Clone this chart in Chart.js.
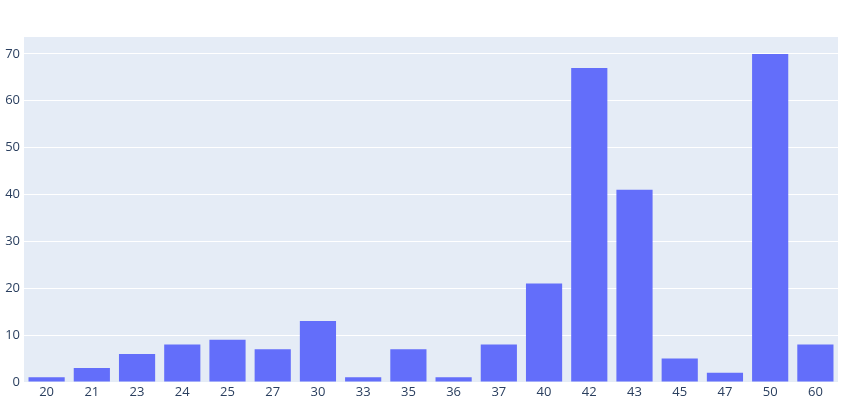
<!DOCTYPE html>
<html>
<head>
<meta charset="utf-8">
<script src="https://cdn.jsdelivr.net/npm/chart.js@4"></script>
<style>
  html, body { margin: 0; padding: 0; background: #fff; }
  #wrap { width: 863px; height: 401px; position: relative; }
</style>
</head>
<body>
<div id="wrap"><canvas id="barChart"></canvas></div>
<script>
// Data
const categories = ['20', '21', '23', '24', '25', '27', '30', '33', '35', '36', '37', '40', '42', '43', '45', '47', '50', '60'];
const counts = [1, 3, 6, 8, 9, 7, 13, 1, 7, 1, 8, 21, 67, 41, 5, 2, 70, 8];
const yTicks = [0, 10, 20, 30, 40, 50, 60, 70];

// plot background like plotly
const plotBg = {
    id: 'plotBg',
    beforeDraw(chart) {
        const { ctx, chartArea: a } = chart;
        ctx.save();
        ctx.fillStyle = '#e5ecf6';
        ctx.fillRect(a.left, a.top, a.right - a.left, a.bottom - a.top);
        ctx.restore();
    }
};

Chart.defaults.font.family = "'Open Sans', 'Noto Sans', sans-serif";
Chart.defaults.font.size = 13;
Chart.defaults.color = '#2a3f5f';

new Chart(document.getElementById('barChart'), {
    type: 'bar',
    data: {
        labels: categories,
        datasets: [{
            data: counts,
            backgroundColor: '#636efa',
            borderWidth: 0,
            barPercentage: 0.8,
            categoryPercentage: 1
        }]
    },
    options: {
        responsive: true,
        maintainAspectRatio: false,
        animation: false,
        layout: { padding: { top: 37, right: 25, left: 0, bottom: 0 } },
        plugins: {
            legend: { display: false },
            tooltip: { enabled: false }
        },
        scales: {
            x: {
                grid: { display: false, drawTicks: false },
                border: { display: false },
                ticks: { padding: 2, maxRotation: 0, autoSkip: false },
                afterFit(s) { s.height = 19; }
            },
            y: {
                min: 0,
                max: 73.6,
                afterBuildTicks(s) { s.ticks = yTicks.map(v => ({ value: v })); },
                grid: { color: '#ffffff', lineWidth: 1, drawTicks: false },
                border: { display: false },
                ticks: { padding: 4 },
                afterFit(s) { s.width = 24; }
            }
        }
    },
    plugins: [plotBg]
});
</script>
</body>
</html>
